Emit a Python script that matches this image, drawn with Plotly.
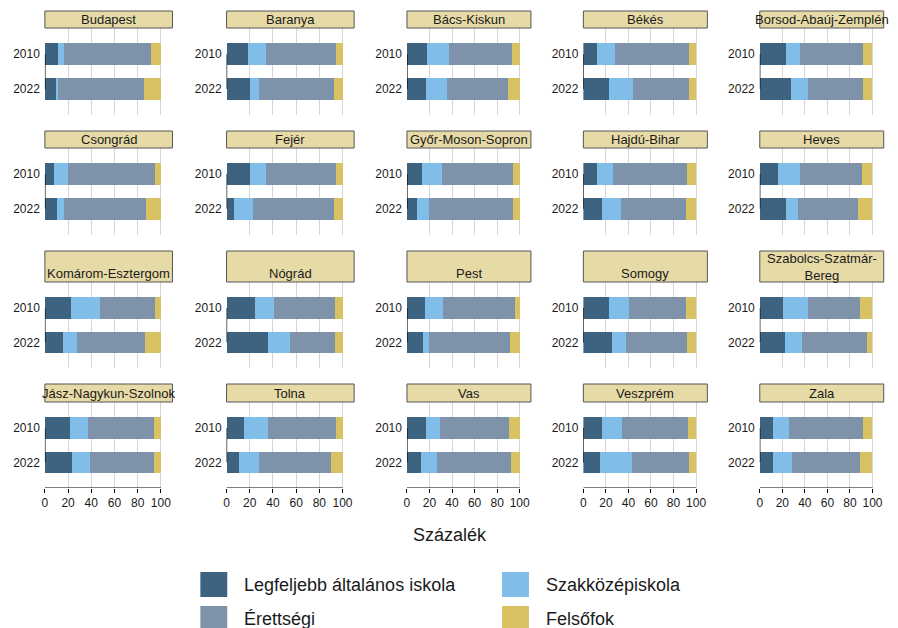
import plotly.graph_objects as go

# ---------------- data ----------------
regions = [
    "Budapest", "Baranya", "Bács-Kiskun", "Békés", "Borsod-Abaúj-Zemplén",
    "Csongrád", "Fejér", "Győr-Moson-Sopron", "Hajdú-Bihar", "Heves",
    "Komárom-Esztergom", "Nógrád", "Pest", "Somogy", "Szabolcs-Szatmár-Bereg",
    "Jász-Nagykun-Szolnok", "Tolna", "Vas", "Veszprém", "Zala",
]
strip_labels = [r if r != "Szabolcs-Szatmár-Bereg" else "Szabolcs-Szatmár-<br>Bereg" for r in regions]
years = ["2010", "2022"]
categories = ["Legfeljebb általános iskola", "Szakközépiskola", "Érettségi", "Felsőfok"]

alt_2010 = [11.7, 18.6, 18.0, 12.1, 23.5, 7.7, 20.1, 13.6, 12.4, 16.5,
            22.3, 24.6, 15.9, 22.7, 20.9, 21.5, 14.9, 16.8, 16.5, 11.5]
szak_2010 = [4.6, 15.5, 19.5, 15.9, 11.8, 12.6, 14.0, 17.1, 13.9, 18.8,
             25.0, 16.7, 15.7, 18.0, 21.5, 15.5, 20.9, 12.7, 17.4, 14.1]
erett_2010 = [75.1, 59.9, 56.0, 66.1, 56.5, 74.5, 59.9, 63.7, 66.0, 55.0,
              47.8, 52.1, 64.3, 50.7, 46.1, 57.3, 58.5, 61.4, 59.3, 66.2]
felso_2010 = [8.6, 6.0, 6.5, 5.9, 8.2, 5.2, 6.0, 5.6, 7.7, 9.7,
              4.9, 6.6, 4.1, 8.6, 11.5, 5.7, 5.7, 9.1, 6.8, 8.2]

alt_2022 = [9.5, 20.1, 16.8, 22.7, 27.9, 10.3, 6.6, 8.8, 16.8, 23.5,
            15.5, 36.1, 13.9, 25.1, 22.4, 23.5, 10.9, 12.7, 15.0, 11.5]
szak_2022 = [2.2, 8.0, 18.9, 21.5, 15.0, 6.0, 16.3, 10.7, 16.2, 10.0,
             12.0, 18.3, 5.6, 12.4, 15.5, 15.2, 17.2, 13.6, 28.4, 16.7]
erett_2022 = [73.4, 64.5, 53.7, 49.9, 48.3, 70.5, 69.7, 74.9, 58.4, 54.1,
              58.5, 39.0, 71.9, 54.8, 57.4, 55.0, 61.9, 66.3, 50.7, 60.9]
felso_2022 = [14.9, 7.4, 10.6, 5.9, 8.8, 13.2, 7.4, 5.6, 8.6, 12.4,
              14.0, 6.6, 8.6, 7.7, 4.7, 6.3, 10.0, 7.4, 5.9, 10.9]

x_ticks = [0, 20, 40, 60, 80, 100]
x_title = "Százalék"

# ---------------- styling ----------------
colors = ["#3d6380", "#80bde8", "#7e93a9", "#d9c264"]
FONT = "Liberation Sans, Arial, Helvetica, sans-serif"
OFF = 8                      # page body margin
W, H = 898 - OFF, 628 - OFF  # figure fits inside the window
col_left = [42, 224.3, 405.3, 582.3, 759.3]
col_width = [128, 128, 124.4, 124.4, 124.4]
row_panel = [(28, 115), (148, 234.5), (282, 368), (402, 488)]
strip_top = [11, 131, 251, 384]
YR = [-0.745, 1.755]
ypos = [1, 0]  # 2010 on top, 2022 below


def px(v):
    return (v - OFF) / W


def py(v):
    return 1 - (v - OFF) / H


fig = go.Figure()
layout = dict(
    width=W, height=H, margin=dict(l=0, r=0, t=0, b=0),
    paper_bgcolor="white", plot_bgcolor="white",
    barmode="stack", showlegend=False,
    font=dict(family=FONT, color="#1a1a1a"),
)
shapes, annotations = [], []

series = list(zip(
    [alt_2010, szak_2010, erett_2010, felso_2010],
    [alt_2022, szak_2022, erett_2022, felso_2022],
))

for i, reg in enumerate(regions):
    r, c = divmod(i, 5)
    n = i + 1
    xa = "x" if n == 1 else f"x{n}"
    ya = "y" if n == 1 else f"y{n}"
    xkey = "xaxis" if n == 1 else f"xaxis{n}"
    ykey = "yaxis" if n == 1 else f"yaxis{n}"
    x0 = px(col_left[c])
    x1 = px(col_left[c] + col_width[c])
    ptop, pbot = row_panel[r]
    layout[xkey] = dict(
        domain=[x0, x1], anchor=ya, range=[0, 110],
        tickvals=x_ticks, showgrid=True, gridcolor="#d6d6d6", gridwidth=1,
        zeroline=False, showline=False,
        showticklabels=(r == 3), ticks="outside" if r == 3 else "",
        ticklen=4, tickcolor="black", tickwidth=1,
        tickfont=dict(size=12, color="#1a1a1a", family=FONT),
        fixedrange=True,
    )
    layout[ykey] = dict(
        domain=[py(pbot), py(ptop)], anchor=xa, range=YR,
        tickvals=ypos, ticktext=years, showgrid=False, zeroline=False,
        showline=False, ticks="", ticklabelstandoff=4,
        tickfont=dict(size=12, color="#1a1a1a", family=FONT),
        fixedrange=True,
    )
    for k, (s10, s22) in enumerate(series):
        fig.add_trace(go.Bar(
            x=[s10[i], s22[i]], y=ypos, orientation="h", width=0.63,
            marker=dict(color=colors[k], line=dict(width=0)),
            name=categories[k], xaxis=xa, yaxis=ya, hoverinfo="x+name",
        ))
    # short left axis line between the two bars
    fig.add_trace(go.Scatter(
        x=[0, 0], y=ypos, mode="lines", line=dict(color="black", width=1.2),
        xaxis=xa, yaxis=ya, hoverinfo="skip", cliponaxis=False,
    ))
    if r == 3:
        fig.add_trace(go.Scatter(
            x=[x_ticks[0], x_ticks[-1]], y=[YR[0], YR[0]], mode="lines",
            line=dict(color="black", width=1.2),
            xaxis=xa, yaxis=ya, hoverinfo="skip", cliponaxis=False,
        ))
    # strip
    st = strip_top[r]
    shapes.append(dict(
        type="rect", xref="paper", yref="paper",
        x0=x0, x1=x1, y0=py(ptop), y1=py(st),
        fillcolor="#e6dba6", line=dict(color="#555555", width=1), layer="above",
    ))
    if r == 2:
        ty = 266.5 if "<br>" in strip_labels[i] else 273
    else:
        ty = (st + ptop) / 2
    annotations.append(dict(
        text=strip_labels[i], xref="paper", yref="paper",
        x=(x0 + x1) / 2, y=py(ty), xanchor="center", yanchor="middle",
        showarrow=False, font=dict(size=13, color="#1a1a1a", family=FONT),
    ))

# axis title
annotations.append(dict(
    text=x_title, xref="paper", yref="paper", x=px(448), y=py(535),
    xanchor="center", yanchor="middle", showarrow=False,
    font=dict(size=18, color="#1a1a1a", family=FONT),
))

# legend (manual, 2 columns)
leg_pos = [(198, 572), (500.7, 572), (198, 606), (500.7, 606)]
legend_items = [(categories[0], colors[0]), (categories[1], colors[1]),
                (categories[2], colors[2]), (categories[3], colors[3])]
for (lx, ly), (lab, col) in zip(leg_pos, legend_items):
    shapes.append(dict(
        type="rect", xref="paper", yref="paper",
        x0=px(lx), x1=px(lx + 27), y0=py(ly + 25), y1=py(ly),
        fillcolor=col, line=dict(width=0),
    ))
    annotations.append(dict(
        text=lab, xref="paper", yref="paper", x=px(lx + 42),
        y=py(ly + 13), xanchor="left", yanchor="middle", showarrow=False,
        font=dict(size=18, color="#1a1a1a", family=FONT),
    ))

layout["shapes"] = shapes
layout["annotations"] = annotations
fig.update_layout(**layout)
fig.write_html("out.html")
